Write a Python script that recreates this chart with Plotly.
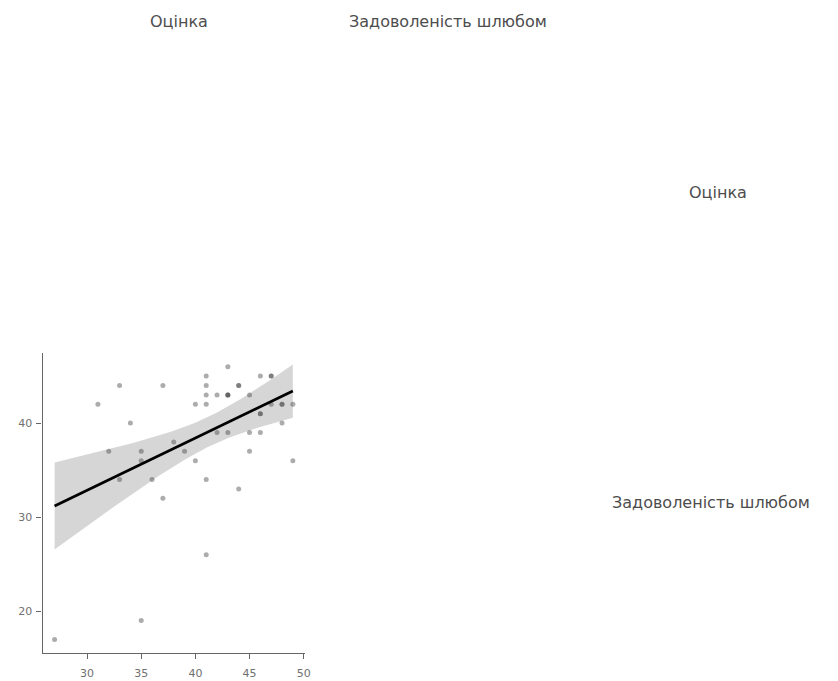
import numpy as np
import plotly.graph_objects as go

# Scatter data: x = Задоволеність шлюбом (column), y = Оцінка (row)
x_vals = [27, 35, 41, 37, 44, 41, 33, 36, 40, 49, 35, 32, 35, 39, 45, 38,
          42, 43, 45, 46, 34, 48, 46, 46, 31, 40, 41, 47, 48, 48, 49,
          41, 42, 43, 43, 43, 45, 33, 37, 41, 44, 44, 41, 46, 47, 47, 43]
y_vals = [17, 19, 26, 32, 33, 34, 34, 34, 36, 36, 36, 37, 37, 37, 37, 38,
          39, 39, 39, 39, 40, 40, 41, 41, 42, 42, 42, 42, 42, 42, 42,
          43, 43, 43, 43, 43, 43, 44, 44, 44, 44, 44, 45, 45, 45, 45, 46]

col_labels = ["Оцінка", "Задоволеність шлюбом"]
row_labels = ["Оцінка", "Задоволеність шлюбом"]
x_ticks = [30, 35, 40, 45, 50]
y_ticks = [20, 30, 40]

x = np.array(x_vals, dtype=float)
y = np.array(y_vals, dtype=float)
n = len(x)
b, a = np.polyfit(x, y, 1)
xs = np.linspace(x.min(), x.max(), 80)
ys = a + b * xs
resid = y - (a + b * x)
s = np.sqrt(np.sum(resid ** 2) / (n - 2))
sxx = np.sum((x - x.mean()) ** 2)
se = s * np.sqrt(1 / n + (xs - x.mean()) ** 2 / sxx)
t = 2.014
lo = ys - t * se
hi = ys + t * se

FONT = "DejaVu Sans, sans-serif"
fig = go.Figure()
fig.add_trace(go.Scatter(x=np.concatenate([xs, xs[::-1]]), y=np.concatenate([hi, lo[::-1]]),
                         fill="toself", fillcolor="rgba(153,153,153,0.4)", line=dict(width=0),
                         mode="lines", hoverinfo="skip", showlegend=False))
fig.add_trace(go.Scatter(x=x, y=y, mode="markers",
                         marker=dict(size=5, color="rgba(70,70,70,0.45)", line=dict(width=0)),
                         showlegend=False))
fig.add_trace(go.Scatter(x=xs, y=ys, mode="lines", line=dict(color="black", width=2.8),
                         showlegend=False))

axis_common = dict(showgrid=False, zeroline=False, showline=True, linecolor="#666", linewidth=1.4,
                   ticks="outside", ticklen=5, tickcolor="#666", tickwidth=1.2,
                   tickfont=dict(family=FONT, size=11, color="#707070"))
fig.update_layout(
    width=838, height=681, margin=dict(l=0, r=0, t=0, b=0),
    paper_bgcolor="white", plot_bgcolor="white",
    xaxis=dict(domain=[0.0513, 0.3663], range=[25.9, 50.1], tickvals=x_ticks,
               ticklabelstandoff=5, **axis_common),
    yaxis=dict(domain=[0.0411, 0.4816], range=[15.55, 47.45], tickvals=y_ticks,
               ticklabelstandoff=2, **axis_common),
)
annos = [
    (col_labels[0], 0.2148, 0.9677),
    (col_labels[1], 0.538, 0.9677),
    (row_labels[0], 0.8628, 0.7166),
    (row_labels[1], 0.854, 0.2614),
]
for txt, ax, ay in annos:
    fig.add_annotation(text=txt, x=ax, y=ay, xref="paper", yref="paper", showarrow=False,
                       xanchor="center", yanchor="middle",
                       font=dict(family=FONT, size=16, color="#4d4d4d"))
fig.write_html("out.html", config={"displayModeBar": False},
               post_script="document.body.style.margin='0px';")
